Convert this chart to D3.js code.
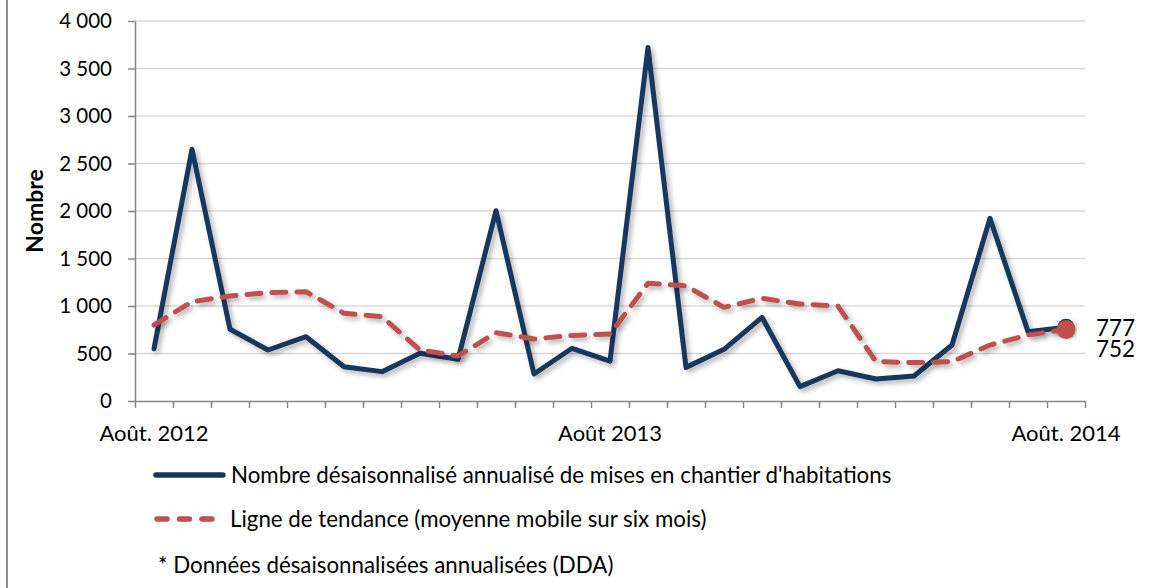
<!DOCTYPE html>
<html>
<head>
<meta charset="utf-8">
<script src="https://cdn.jsdelivr.net/npm/d3@7"></script>
<style>
  html, body { margin: 0; padding: 0; background: #fff; }
  svg { display: block; font-family: Lato, "Open Sans", sans-serif; }
</style>
</head>
<body>
<svg id="chart" width="1176" height="588"></svg>
<script>
// ---- Data ----
const months = ["août 2012","sept. 2012","oct. 2012","nov. 2012","déc. 2012",
  "janv. 2013","févr. 2013","mars 2013","avr. 2013","mai 2013","juin 2013","juil. 2013",
  "août 2013","sept. 2013","oct. 2013","nov. 2013","déc. 2013",
  "janv. 2014","févr. 2014","mars 2014","avr. 2014","mai 2014","juin 2014","juil. 2014","août 2014"];
const starts = [550, 2650, 755, 537, 677, 361, 309, 502, 439, 2003, 284, 555, 420,
  3720, 354, 544, 881, 151, 319, 232, 263, 589, 1923, 730, 777];
const trend = [800, 1045, 1105, 1140, 1151, 923, 888, 537, 474, 719, 653, 690, 705,
  1239, 1211, 986, 1081, 1021, 1000, 414, 404, 414, 589, 695, 752];
const xLabelIndex = [0, 12, 24];
const xLabels = ["Août. 2012", "Août 2013", "Août. 2014"];
const yTicks = [0, 500, 1000, 1500, 2000, 2500, 3000, 3500, 4000];
const yTitle = "Nombre";
const legendLabels = ["Nombre désaisonnalisé annualisé de mises en chantier d'habitations",
  "Ligne de tendance (moyenne mobile sur six mois)"];
const footnote = "* Données désaisonnalisées annualisées (DDA)";

(function () {
// ---- Layout ----
const svg = d3.select("#chart");
const pL = 135, pR = 1085, pT = 21, pB = 401;
const blue = "#17375E", red = "#C0504D", axisGray = "#868686", gridGray = "#D9D9D9";

const x = d3.scaleLinear().domain([0, months.length]).range([pL, pR]);
const y = d3.scaleLinear().domain([0, 4000]).range([pB, pT]);
const fr = d3.formatLocale({decimal: ",", thousands: " ", grouping: [3], currency: ["", " $"]});
const fmt = fr.format(",d");

// shadow filter
const defs = svg.append("defs");
const f = defs.append("filter").attr("id", "shadow").attr("x", "-10%").attr("y", "-10%")
  .attr("width", "120%").attr("height", "130%");
f.append("feDropShadow").attr("dx", 3).attr("dy", 3).attr("stdDeviation", 2.5)
  .attr("flood-color", "#000").attr("flood-opacity", 0.3);

// left frame line
svg.append("line").attr("x1", 7).attr("x2", 7).attr("y1", 0).attr("y2", 588)
  .attr("stroke", "#8c8c8c").attr("stroke-width", 2);

// gridlines
svg.append("g").selectAll("line").data(yTicks.filter(d => d > 0)).join("line")
  .attr("x1", pL).attr("x2", pR)
  .attr("y1", d => y(d)).attr("y2", d => y(d))
  .attr("stroke", gridGray).attr("stroke-width", 1.5);

// y axis
const yAxis = svg.append("g").attr("transform", `translate(${pL},0)`)
  .call(d3.axisLeft(y).tickValues(yTicks).tickFormat(fmt).tickSize(7).tickSizeOuter(0).tickPadding(16));
yAxis.select(".domain").attr("stroke", axisGray).attr("stroke-width", 1.5);
yAxis.selectAll(".tick line").attr("stroke", axisGray).attr("stroke-width", 1.5);
yAxis.selectAll(".tick text").attr("fill", "#000").attr("font-size", 20.5)
  .attr("font-family", "Lato, sans-serif");

// x axis
const xAxis = svg.append("g").attr("transform", `translate(0,${pB})`)
  .call(d3.axisBottom(x).tickValues(d3.range(months.length + 1)).tickFormat("").tickSize(7).tickSizeOuter(0));
xAxis.select(".domain").attr("stroke", axisGray).attr("stroke-width", 1.5);
xAxis.selectAll(".tick line").attr("stroke", axisGray).attr("stroke-width", 1.5);

svg.append("g").selectAll("text").data(xLabelIndex).join("text")
  .attr("x", d => x(d + 0.5)).attr("y", 441)
  .attr("text-anchor", "middle").attr("font-size", 22).attr("fill", "#000")
  .text((d, i) => xLabels[i]);

// y title
svg.append("text").attr("transform", "translate(43,211) rotate(-90)")
  .attr("text-anchor", "middle").attr("font-size", 23).attr("font-weight", "bold")
  .attr("fill", "#000").text(yTitle);

// lines
const line = d3.line().x((d, i) => x(i + 0.5)).y(d => y(d));
svg.append("path").datum(starts).attr("d", line)
  .attr("fill", "none").attr("stroke", blue).attr("stroke-width", 5)
  .attr("stroke-linejoin", "round").attr("stroke-linecap", "round")
  .attr("filter", "url(#shadow)");
svg.append("path").datum(trend).attr("d", line)
  .attr("fill", "none").attr("stroke", red).attr("stroke-width", 5)
  .attr("stroke-dasharray", "14,11").attr("stroke-linecap", "round")
  .attr("stroke-linejoin", "round")
  .attr("filter", "url(#shadow)");

// end markers
const last = months.length - 1;
svg.append("circle").attr("cx", x(last + 0.5)).attr("cy", y(starts[last])).attr("r", 8.5)
  .attr("fill", blue).attr("filter", "url(#shadow)");
svg.append("circle").attr("cx", x(last + 0.5)).attr("cy", y(trend[last])).attr("r", 9.5)
  .attr("fill", red);

// end labels
svg.append("text").attr("x", 1096).attr("y", 336).attr("font-size", 22.5).attr("fill", "#000")
  .text(starts[last]);
svg.append("text").attr("x", 1096).attr("y", 357).attr("font-size", 22.5).attr("fill", "#000")
  .text(trend[last]);

// legend
const legFont = 22.3;
svg.append("line").attr("x1", 156).attr("x2", 223).attr("y1", 475).attr("y2", 475)
  .attr("stroke", blue).attr("stroke-width", 5.5).attr("stroke-linecap", "round");
svg.append("text").attr("x", 231).attr("y", 483).attr("font-size", legFont).attr("fill", "#000")
  .text(legendLabels[0]);
svg.append("line").attr("x1", 157).attr("x2", 213).attr("y1", 519).attr("y2", 519)
  .attr("stroke", red).attr("stroke-width", 5.5).attr("stroke-linecap", "round")
  .attr("stroke-dasharray", "10,12.5");
svg.append("text").attr("x", 230).attr("y", 527).attr("font-size", legFont).attr("fill", "#000")
  .text(legendLabels[1]);
svg.append("text").attr("x", 158).attr("y", 573).attr("font-size", legFont).attr("fill", "#000")
  .text(footnote);
})();
</script>
</body>
</html>
